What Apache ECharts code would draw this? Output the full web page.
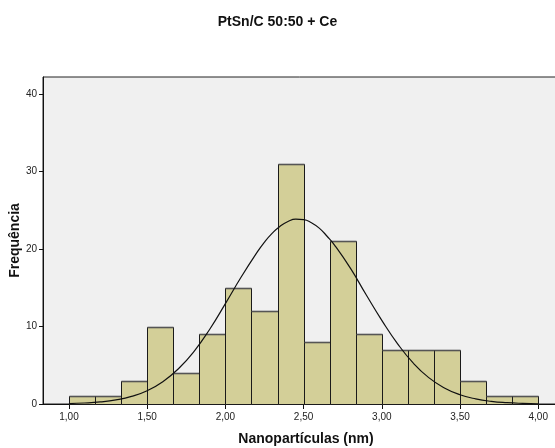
<!DOCTYPE html>
<html>
<head>
<meta charset="utf-8">
<script src="https://cdn.jsdelivr.net/npm/echarts@6/dist/echarts.min.js"></script>
<style>html,body{margin:0;padding:0;background:#fff;}#c{width:555px;height:448px;}</style>
</head>
<body>
<div id="c"></div>
<script>
// Histogram bins (lower/upper edge, nm) and counts
var binLo = [1.0000, 1.1667, 1.3333, 1.5000, 1.6667, 1.8333, 2.0000, 2.1667, 2.3333, 2.5000, 2.6667, 2.8333, 3.0000, 3.1667, 3.3333, 3.5000, 3.6667, 3.8333];
var binHi = [1.1667, 1.3333, 1.5000, 1.6667, 1.8333, 2.0000, 2.1667, 2.3333, 2.5000, 2.6667, 2.8333, 3.0000, 3.1667, 3.3333, 3.5000, 3.6667, 3.8333, 4.0000];
var counts = [1, 1, 3, 10, 4, 9, 15, 12, 31, 8, 21, 9, 7, 7, 7, 3, 1, 1];
// Normal curve points
var curveX = [1.0, 1.1, 1.2, 1.3, 1.4, 1.5, 1.6, 1.7, 1.8, 1.9, 2.0, 2.1, 2.2, 2.25, 2.3, 2.35, 2.4, 2.45, 2.5, 2.55, 2.6, 2.65, 2.7, 2.8, 2.9, 3.0, 3.1, 3.2, 3.3, 3.4, 3.5, 3.6, 3.7, 3.8, 3.9, 4.0];
var curveY = [0.06, 0.13, 0.27, 0.53, 0.98, 1.72, 2.88, 4.55, 6.8, 9.65, 12.95, 16.35, 19.5, 20.9, 22.05, 22.95, 23.55, 23.85, 23.8, 23.4, 22.7, 21.65, 20.45, 17.5, 14.1, 10.8, 7.8, 5.3, 3.4, 2.07, 1.2, 0.66, 0.34, 0.17, 0.08, 0.035];
var xTicks = [1.0, 1.5, 2.0, 2.5, 3.0, 3.5, 4.0];
var yTicks = [0, 10, 20, 30, 40];

var chart = echarts.init(document.getElementById('c'), null, {renderer: 'canvas'});
var FONT = 'Liberation Sans, Arial, sans-serif';
var barData = counts.map(function (c, i) { return [binLo[i], binHi[i], c]; });
var lineData = curveX.map(function (x, i) { return [x, curveY[i]]; });

chart.setOption({
  animation: false,
  backgroundColor: '#ffffff',
  title: {
    text: 'PtSn/C 50:50 + Ce',
    left: 'center',
    top: 10,
    textStyle: {fontFamily: FONT, fontSize: 14, fontWeight: 'bold', color: '#111'}
  },
  grid: {
    left: 43, top: 77, right: -2, bottom: 44,
    outerBoundsMode: 'none', containLabel: false,
    show: true, backgroundColor: '#f0f0f0', borderColor: '#222', borderWidth: 1
  },
  xAxis: {
    type: 'value', min: 0.834, max: 4.12,
    name: 'Nanopartículas (nm)', nameLocation: 'middle', nameGap: 28, nameMoveOverlap: false,
    nameTextStyle: {fontFamily: FONT, fontSize: 14, fontWeight: 'bold', color: '#111', padding: [0, 0, 0, 12]},
    axisLine: {show: true, lineStyle: {color: '#111', width: 1}},
    axisTick: {show: true, customValues: xTicks, length: 5, lineStyle: {color: '#111'}},
    axisLabel: {customValues: xTicks, fontFamily: FONT, fontSize: 10, color: '#222', margin: 8,
      formatter: function (v) { return v.toFixed(2).replace('.', ','); }},
    splitLine: {show: false}
  },
  yAxis: {
    type: 'value', min: 0, max: 42.2,
    name: 'Frequência', nameLocation: 'middle', nameGap: 21, nameRotate: 90, nameMoveOverlap: false,
    nameTextStyle: {fontFamily: FONT, fontSize: 14, fontWeight: 'bold', color: '#111'},
    axisLine: {show: true, lineStyle: {color: '#111', width: 1}},
    axisTick: {show: true, customValues: yTicks, length: 4, lineStyle: {color: '#111'}},
    axisLabel: {customValues: yTicks, fontFamily: FONT, fontSize: 10, color: '#222', margin: 6},
    splitLine: {show: false}
  },
  series: [
    {
      type: 'custom',
      data: barData,
      encode: {x: [0, 1], y: 2},
      renderItem: function (params, api) {
        var p0 = api.coord([api.value(0), api.value(2)]);
        var p1 = api.coord([api.value(1), 0]);
        var x0 = Math.round(p0[0]) + 0.5, y0 = Math.round(p0[1]) + 0.5;
        var x1 = Math.round(p1[0]) + 0.5, y1 = Math.round(p1[1]) + 0.5;
        return {
          type: 'group',
          children: [
            {type: 'rect', shape: {x: x0, y: y0, width: x1 - x0, height: y1 - y0},
              style: {fill: '#d3cf98', stroke: '#1a1a1a', lineWidth: 1}},
            {type: 'line', shape: {x1: x0, y1: y0, x2: x1, y2: y0},
              style: {stroke: '#555555', lineWidth: 1.6}}
          ]
        };
      }
    },
    {
      type: 'line',
      data: lineData,
      smooth: true,
      showSymbol: false,
      symbol: 'none',
      lineStyle: {color: '#111', width: 1.2},
      z: 5
    }
  ]
});
</script>
</body>
</html>
